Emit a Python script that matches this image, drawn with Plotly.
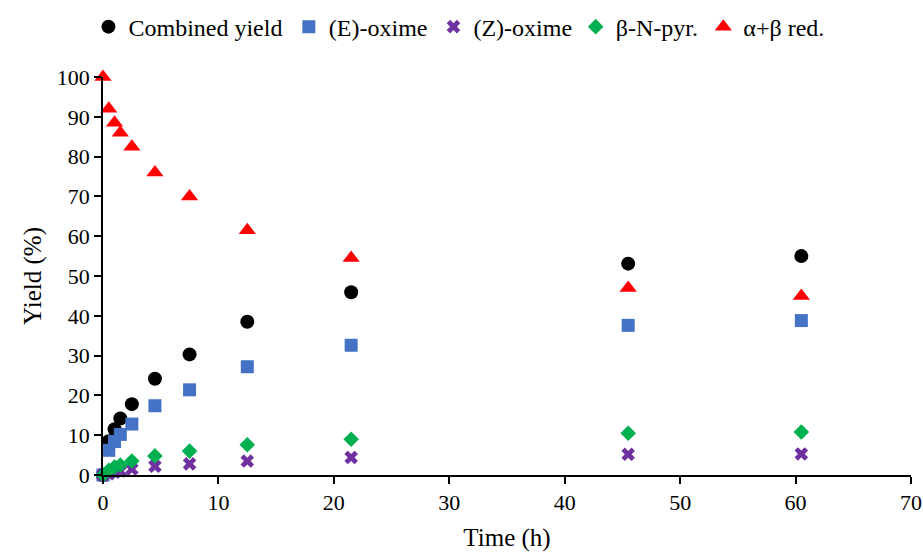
import plotly.graph_objects as go

# Reaction time (h)
time_h = [0, 0.5, 1, 1.5, 2.5, 4.5, 7.5, 12.5, 21.5, 45.5, 60.5]

# Yields (%)
combined_yield = [0, 8.5, 11.5, 14.2, 17.8, 24.2, 30.3, 38.5, 45.9, 53.1, 55.0]
e_oxime = [0, 6.2, 8.4, 10.2, 12.8, 17.4, 21.4, 27.2, 32.6, 37.6, 38.8]
z_oxime = [0, 0.3, 0.7, 1.0, 1.5, 2.2, 2.8, 3.5, 4.4, 5.2, 5.3]
beta_n_pyr = [0, 1.2, 2.0, 2.5, 3.5, 4.8, 6.0, 7.6, 9.0, 10.5, 10.8]
alpha_beta_red = [100, 92, 88.5, 86, 82.5, 76, 70, 61.5, 54.5, 47, 45]

# name, values, marker symbol, colour, marker size, legend slot, legend left (paper x)
series = [
    ("Combined yield", combined_yield, "circle", "#000000", 14, "legend", -0.018),
    ("(E)-oxime", e_oxime, "square", "#4472C4", 13, "legend2", 0.230),
    ("(Z)-oxime", z_oxime, "x", "#7030A0", 12, "legend3", 0.409),
    ("β-N-pyr.", beta_n_pyr, "diamond", "#00B050", 12, "legend4", 0.585),
    ("α+β red.", alpha_beta_red, "triangle-up", "#FF0000", 15, "legend5", 0.743),
]

font_family = "Liberation Serif, Times New Roman, serif"

fig = go.Figure()
legend_layout = {}
for name, values, symbol, color, size, leg, leg_x in series:
    fig.add_trace(go.Scatter(
        x=time_h, y=values, mode="markers", name=name, cliponaxis=False,
        legend=leg,
        marker=dict(symbol=symbol, color=color, size=size, line=dict(width=0)),
    ))
    legend_layout[leg] = dict(
        orientation="h", x=leg_x, xanchor="left",
        yref="container", y=0.951, yanchor="middle",
        font=dict(family=font_family, size=24, color="black"),
        itemwidth=30, bgcolor="rgba(0,0,0,0)",
    )

fig.update_layout(
    width=923, height=552,
    margin=dict(l=103, r=12, t=77, b=77, autoexpand=False),
    paper_bgcolor="white", plot_bgcolor="white",
    font=dict(family=font_family, size=22, color="black"),
    showlegend=True,
    **legend_layout,
    xaxis=dict(
        range=[0, 70], dtick=10, showgrid=False, zeroline=False,
        showline=True, linecolor="black", linewidth=1.8,
        ticks="outside", ticklen=7, tickwidth=1.5, tickcolor="black",
        tickfont=dict(family=font_family, size=22),
        title=dict(text="Time (h)", font=dict(family=font_family, size=25), standoff=14),
        automargin=False,
    ),
    yaxis=dict(
        range=[0, 100], dtick=10, showgrid=False, zeroline=False,
        showline=True, linecolor="black", linewidth=1.8,
        ticks="outside", ticklen=7, tickwidth=1.5, tickcolor="black",
        tickfont=dict(family=font_family, size=22),
        title=dict(text="Yield (%)", font=dict(family=font_family, size=25), standoff=8),
        automargin=False,
    ),
)

fig.write_html("out.html")
